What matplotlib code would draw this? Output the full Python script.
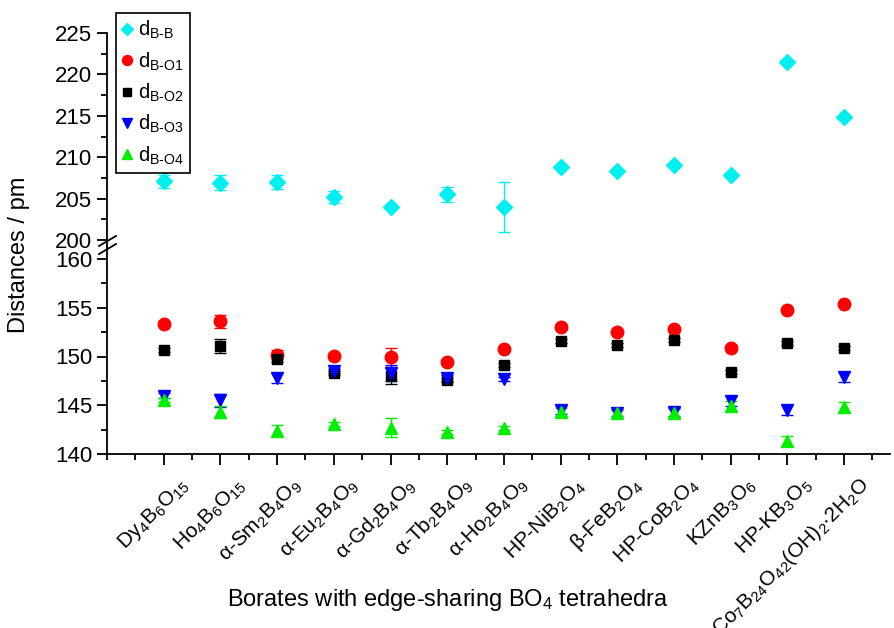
import numpy as np
import matplotlib
import matplotlib.pyplot as plt
from matplotlib.ticker import MultipleLocator

plt.rcParams['font.family'] = ['Liberation Sans', 'DejaVu Sans']
plt.rcParams['mathtext.fontset'] = 'custom'
plt.rcParams['mathtext.rm'] = 'Liberation Sans'
plt.rcParams['mathtext.it'] = 'Liberation Sans:italic'
plt.rcParams['mathtext.default'] = 'regular'

# Borates with edge-sharing BO4 tetrahedra
compounds = [
    r'Dy$_4$B$_6$O$_{15}$', r'Ho$_4$B$_6$O$_{15}$', r'$\alpha$-Sm$_2$B$_4$O$_9$',
    r'$\alpha$-Eu$_2$B$_4$O$_9$', r'$\alpha$-Gd$_2$B$_4$O$_9$', r'$\alpha$-Tb$_2$B$_4$O$_9$',
    r'$\alpha$-Ho$_2$B$_4$O$_9$', r'HP-NiB$_2$O$_4$', r'$\beta$-FeB$_2$O$_4$',
    r'HP-CoB$_2$O$_4$', r'KZnB$_3$O$_6$', r'HP-KB$_3$O$_5$',
    r'Co$_7$B$_{24}$O$_{42}$(OH)$_2$$\cdot$2H$_2$O',
]

d_bb = [207.1, 206.9, 207.0, 205.2, 204.0, 205.5, 204.0, 208.8, 208.3, 209.0, 207.9, 221.5, 214.8]
e_bb = [0.8, 0.9, 0.9, 0.7, 0.3, 0.9, 3.0, 0.2, 0.2, 0.2, 0.2, 0.2, 0.2]
d_bo1 = [153.3, 153.6, 150.2, 150.1, 149.9, 149.4, 150.8, 153.0, 152.5, 152.8, 150.9, 154.8, 155.4]
e_bo1 = [0.2, 0.7, 0.5, 0.2, 1.0, 0.2, 0.2, 0.2, 0.2, 0.2, 0.2, 0.2, 0.2]
d_bo2 = [150.7, 151.1, 149.7, 148.3, 148.0, 147.6, 149.1, 151.6, 151.2, 151.7, 148.4, 151.4, 150.9]
e_bo2 = [0.2, 0.7, 0.3, 0.2, 0.8, 0.2, 0.2, 0.2, 0.2, 0.2, 0.2, 0.2, 0.2]
d_bo3 = [146.0, 145.5, 147.8, 148.5, 148.3, 147.8, 147.7, 144.5, 144.2, 144.3, 145.4, 144.5, 147.9]
e_bo3 = [0.3, 0.7, 0.5, 0.2, 0.8, 0.3, 0.2, 0.4, 0.3, 0.4, 0.5, 0.5, 0.5]
d_bo4 = [145.5, 144.3, 142.4, 143.1, 142.7, 142.3, 142.7, 144.3, 144.2, 144.2, 144.9, 141.3, 144.8]
e_bo4 = [0.2, 0.6, 0.6, 0.2, 1.0, 0.2, 0.2, 0.4, 0.3, 0.4, 0.5, 0.5, 0.5]

x = np.arange(1, len(compounds) + 1)

W, H = 894, 628
fig = plt.figure(figsize=(W / 100, H / 100), dpi=100)
left, right = 107 / W, 890 / W
ax_top = fig.add_axes([left, 1 - 245 / H, right - left, (245 - 33) / H])
ax_bot = fig.add_axes([left, 1 - 454 / H, right - left, (454 - 245) / H])

err_kw = dict(ls='none', capsize=4, elinewidth=1, capthick=1)
h_bb = ax_top.errorbar(x, d_bb, yerr=e_bb, marker='D', ms=8, color='#00f0f0', **err_kw)

series = [
    (d_bo1, e_bo1, 'o', 9, '#ff0000'),
    (d_bo2, e_bo2, 's', 7.5, '#000000'),
    (d_bo3, e_bo3, 'v', 9, '#0000ff'),
    (d_bo4, e_bo4, '^', 9, '#00ee00'),
]
handles = [h_bb]
for vals, errs, mk, ms, col in series:
    c = ax_bot.errorbar(x, vals, yerr=errs, marker=mk, ms=ms, color=col, **err_kw)
    handles.append(c)

xmin, xmax = 0, (890 - 107) / 56.7
for ax in (ax_top, ax_bot):
    ax.set_xlim(xmin, xmax)
    ax.spines['top'].set_visible(False)
    ax.spines['right'].set_visible(False)
    for s in ax.spines.values():
        s.set_linewidth(1.3)
    ax.yaxis.set_major_locator(MultipleLocator(5))
    ax.yaxis.set_minor_locator(MultipleLocator(2.5))
    ax.tick_params(axis='y', which='major', direction='out', length=7, width=1.3, labelsize=16)
    ax.tick_params(axis='y', which='minor', direction='out', length=4, width=1.3)

ax_top.set_ylim(200 - 5 / 8.28, 225)
ax_top.set_yticks([200, 205, 210, 215, 220, 225])
ax_top.spines['bottom'].set_visible(False)
ax_top.tick_params(axis='x', which='both', bottom=False, labelbottom=False)

ax_bot.set_ylim(140, 160 + 14 / 9.75)
ax_bot.set_yticks([140, 145, 150, 155, 160])
ax_bot.set_xticks(x)
ax_bot.xaxis.set_minor_locator(MultipleLocator(0.5))
ax_bot.tick_params(axis='x', which='major', direction='out', length=8, width=1.3, labelsize=15)
ax_bot.tick_params(axis='x', which='minor', direction='out', length=4, width=1.3)
ax_bot.set_xticklabels(compounds, rotation=45, ha='right', va='center', rotation_mode='anchor')
for t in ax_bot.get_xticklabels():
    t.set_transform(t.get_transform() + matplotlib.transforms.ScaledTranslation(0.22, -0.12, fig.dpi_scale_trans))

# axis break marks
for dy in (-4, 4):
    fig.add_artist(plt.Line2D([99 / W, 116 / W], [1 - (250 + dy) / H, 1 - (240 + dy) / H],
                              color='black', lw=1.3))

fig.text(19 / W, 1 - 255 / H, 'Distances / pm', rotation=90, ha='center', va='center', fontsize=17)
fig.text(448 / W, 1 - 600 / H, r'Borates with edge-sharing BO$_4$ tetrahedra', ha='center', va='center', fontsize=17)

labels = [r'd$_{B\text{-}B}$', r'd$_{B\text{-}O1}$', r'd$_{B\text{-}O2}$', r'd$_{B\text{-}O3}$', r'd$_{B\text{-}O4}$']
leg = fig.legend([h[0] for h in handles], labels,
                 loc='upper left', bbox_to_anchor=(116 / W, 1 - 13 / H), bbox_transform=fig.transFigure,
                 fancybox=False, edgecolor='black', framealpha=1, fontsize=14.5, handlelength=0.5,
                 handletextpad=0.3, borderaxespad=0, borderpad=0.3, labelspacing=0.45, markerscale=0.8)
leg.get_frame().set_linewidth(1.2)

fig.savefig('out.png', dpi=100)
